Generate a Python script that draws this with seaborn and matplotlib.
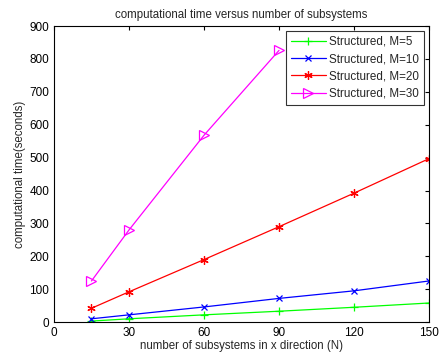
import pandas as pd
import seaborn as sns
import matplotlib.pyplot as plt

# 讀圖估計的數值
n_sub = [15, 30, 60, 90, 120, 150]
t_m5 = [3, 10, 22, 33, 45, 58]
t_m10 = [10, 22, 46, 72, 95, 125]
t_m20 = [42, 92, 190, 290, 392, 497]
n_sub_m30 = [15, 30, 60, 90]
t_m30 = [125, 280, 568, 826]

labels = ["Structured, M=5", "Structured, M=10", "Structured, M=20", "Structured, M=30"]
colors = ["#00ff00", "#0000ff", "#ff0000", "#ff00ff"]
markers = ["+", "x", (6, 2, 0), ">"]
msizes = [6, 5, 6, 6.5]

rows = []
for lab, xs, ys in zip(labels, [n_sub, n_sub, n_sub, n_sub_m30], [t_m5, t_m10, t_m20, t_m30]):
    for x, y in zip(xs, ys):
        rows.append({"N": x, "time": y, "series": lab})
df = pd.DataFrame(rows)

sns.set_style("white")
plt.rcParams["font.family"] = ["Liberation Sans", "DejaVu Sans"]
plt.rcParams["font.size"] = 8

fig = plt.figure(figsize=(4.46, 3.52), dpi=100)
ax = fig.add_axes([0.121, 0.085, 0.841, 0.841])

for lab, c, m, ms in zip(labels, colors, markers, msizes):
    sub = df[df["series"] == lab]
    mfc = "none" if m == ">" else c
    sns.lineplot(data=sub, x="N", y="time", ax=ax, color=c, marker=m, markersize=ms,
                 markerfacecolor=mfc, markeredgecolor=c, markeredgewidth=0.9,
                 linewidth=0.9, label=lab)

ax.set_xlim(0, 150)
ax.set_ylim(0, 900)
ax.set_xticks(range(0, 151, 30))
ax.set_yticks(range(0, 901, 100))
ax.tick_params(direction="in", top=True, right=True, length=3, labelsize=8.5, colors="black")
for s in ax.spines.values():
    s.set_color("black")
    s.set_linewidth(0.8)
ax.set_xlabel("number of subsystems in x direction (N)", fontsize=8.3, labelpad=1)
ax.set_ylabel("computational time(seconds)", fontsize=8.3, labelpad=2)
ax.set_title("computational time versus number of subsystems", fontsize=8.3, pad=6)

leg = ax.legend(loc="upper right", fontsize=8.4, frameon=True, fancybox=False,
                edgecolor="black", handlelength=3.0, borderaxespad=0.4,
                labelspacing=0.45, borderpad=0.45, handletextpad=0.3)
leg.get_frame().set_linewidth(0.8)

fig.savefig("out.png", dpi=100)
